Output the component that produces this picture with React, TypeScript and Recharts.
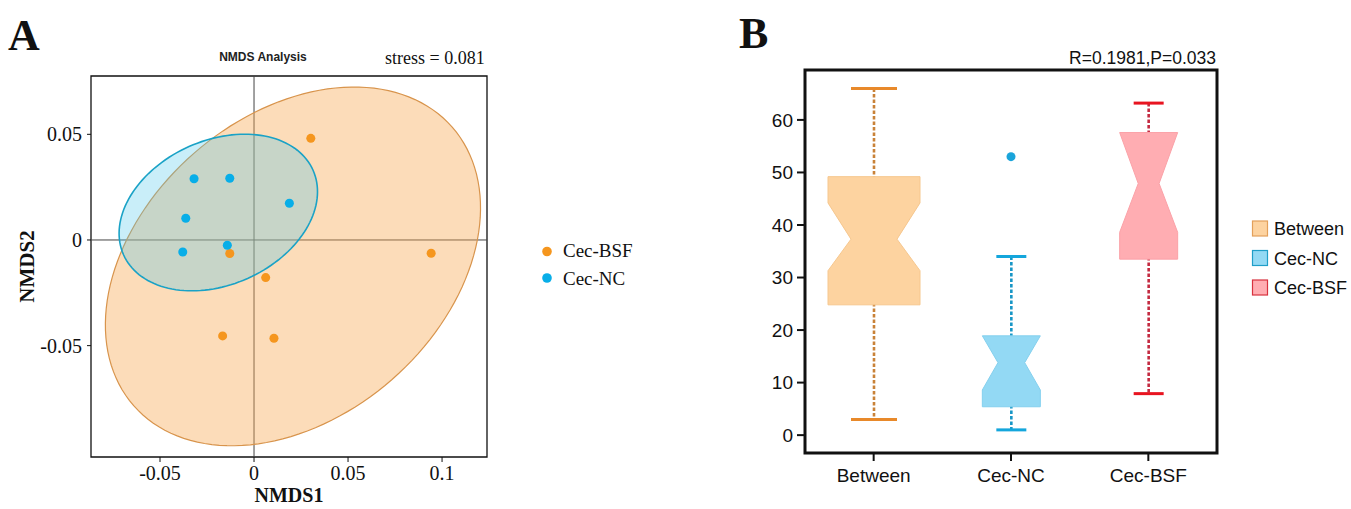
import React from 'react';
import {
  ScatterChart, Scatter, ComposedChart, Bar, Line, XAxis, YAxis,
  ReferenceLine, ReferenceArea, Label,
} from 'recharts';

// ---- panel A : NMDS ----
const BSF_X = [0.0302, -0.0129, 0.0062, -0.0167, 0.0106, 0.0942];
const BSF_Y = [0.0481, -0.0064, -0.0178, -0.0454, -0.0465, -0.0063];
const NC_X = [-0.0319, -0.0129, 0.0188, -0.0363, -0.0379, -0.0142];
const NC_Y = [0.029, 0.0292, 0.0174, 0.0103, -0.0057, -0.0025];

// confidence ellipses: centre + two conjugate semi-axis vectors (data units)
const BSF_ELLIPSE = { c: [0.0207, -0.0125], u: [0.0847, 0.0659], v: [-0.0527, 0.0535] };
const NC_ELLIPSE = { c: [-0.019, 0.013], u: [0.0504, 0.02], v: [-0.0156, 0.0312] };

const X_TICKS = [-0.05, 0, 0.05, 0.1];
const Y_TICKS = [-0.05, 0, 0.05];
const X_DOMAIN = [-0.0867, 0.1239];
const Y_DOMAIN = [-0.1027, 0.0776];

// ---- panel B : ANOSIM boxes ----
const GROUPS = ['Between', 'Cec-NC', 'Cec-BSF'];
const WHISKER_LO = [3.0, 1.0, 7.9];
const Q1 = [24.8, 5.4, 33.5];
const MEDIAN = [37.3, 13.8, 47.9];
const Q3 = [49.2, 18.9, 57.6];
const WHISKER_HI = [66.0, 34.0, 63.2];
const NOTCH_LO = [31.3, 8.6, 38.6];
const NOTCH_HI = [44.2, 18.9, 57.6];
const OUTLIERS = [null, 53.0, null];
const B_TICKS = [0, 10, 20, 30, 40, 50, 60];
const B_DOMAIN = [-3.4, 69.5];

const BOX_STYLE: Record<string, any> = {
  Between: { half: 46, cap: 23, notch: 0.5, fill: '#fdd3a0', edge: '#f6c78e', whisker: '#c98238', capColor: '#e8892a' },
  'Cec-NC': { half: 29, cap: 15, notch: 0.46, fill: '#93d9f4', edge: '#84d0ee', whisker: '#1796c6', capColor: '#14a6dc' },
  'Cec-BSF': { half: 29, cap: 15, notch: 0.36, fill: '#ffadb2', edge: '#fba2a8', whisker: '#c42a40', capColor: '#e81420' },
};

const bsfPoints = BSF_X.map((x, i) => ({ x, y: BSF_Y[i] }));
const ncPoints = NC_X.map((x, i) => ({ x, y: NC_Y[i] }));

function ellipseOutline(e: { c: number[]; u: number[]; v: number[] }) {
  const pts = [];
  for (let i = 0; i < 144; i++) {
    const t = (i / 144) * Math.PI * 2;
    pts.push({
      x: e.c[0] + e.u[0] * Math.cos(t) + e.v[0] * Math.sin(t),
      y: e.c[1] + e.u[1] * Math.cos(t) + e.v[1] * Math.sin(t),
    });
  }
  return pts;
}

const bsfEllipse = ellipseOutline(BSF_ELLIPSE);
const ncEllipse = ellipseOutline(NC_ELLIPSE);

const boxRows = GROUPS.map((g, i) => ({
  group: g,
  whisker: [WHISKER_LO[i], WHISKER_HI[i]],
  q1: Q1[i],
  median: MEDIAN[i],
  q3: Q3[i],
  notchLo: NOTCH_LO[i],
  notchHi: NOTCH_HI[i],
  outlier: OUTLIERS[i],
}));

const polygonFill = (fill: string, opacity: number, stroke: string, sw: number) => (p: any) => {
  const pts = p.points || [];
  if (!pts.length) return <g />;
  const d = pts.map((q: any, i: number) => `${i ? 'L' : 'M'}${q.x},${q.y}`).join('') + 'Z';
  return <path d={d} fill={fill} fillOpacity={opacity} stroke={stroke} strokeWidth={sw} />;
};

const BoxShape = (props: any) => {
  const { x, y, width, height, payload } = props;
  const s = BOX_STYLE[payload.group];
  const lo = payload.whisker[0];
  const hi = payload.whisker[1];
  const top = Math.min(y, y + height);
  const h = Math.abs(height);
  const py = (v: number) => top + ((hi - v) / (hi - lo)) * h;
  const cx = x + width / 2;
  const w = s.half;
  const n = s.half * s.notch;
  const box = [
    [cx - w, py(payload.q3)], [cx + w, py(payload.q3)], [cx + w, py(payload.notchHi)],
    [cx + n, py(payload.median)], [cx + w, py(payload.notchLo)], [cx + w, py(payload.q1)],
    [cx - w, py(payload.q1)], [cx - w, py(payload.notchLo)], [cx - n, py(payload.median)],
    [cx - w, py(payload.notchHi)],
  ];
  const d = box.map((q, i) => `${i ? 'L' : 'M'}${q[0]},${q[1]}`).join('') + 'Z';
  return (
    <g>
      <line x1={cx} x2={cx} y1={py(hi)} y2={py(lo)} stroke={s.whisker} strokeWidth={2.6} strokeDasharray="3.5 2" />
      <line x1={cx - s.cap} x2={cx + s.cap} y1={py(hi)} y2={py(hi)} stroke={s.capColor} strokeWidth={3} />
      <line x1={cx - s.cap} x2={cx + s.cap} y1={py(lo)} y2={py(lo)} stroke={s.capColor} strokeWidth={3} />
      <path d={d} fill={s.fill} stroke={s.edge} strokeWidth={1} />
    </g>
  );
};

const SERIF = '"Liberation Serif", "Times New Roman", serif';
const SANS = '"Liberation Sans", Arial, sans-serif';

export default function App() {
  return (
    <div style={{ position: 'absolute', left: 0, top: 0, width: 1351, height: 509, background: '#fff', overflow: 'hidden' }}>
      <div style={{ position: 'absolute', left: 0, top: 0 }}>
        <ScatterChart width={560} height={509} margin={{ top: 76, right: 73, bottom: 2, left: 11 }}>
          <XAxis
            type="number" dataKey="x" domain={X_DOMAIN} ticks={X_TICKS} allowDataOverflow height={50}
            axisLine={false} tickSize={5} tickMargin={4} tickLine={{ stroke: '#111' }}
            tickFormatter={(v: number) => String(v)}
            tick={{ fill: '#111', fontSize: 20, fontFamily: SERIF }}
          >
            <Label value="NMDS1" position="insideBottom" offset={5} style={{ fontFamily: SERIF, fontSize: 20, fontWeight: 'bold', fill: '#111' }} />
          </XAxis>
          <YAxis
            type="number" dataKey="y" domain={Y_DOMAIN} ticks={Y_TICKS} allowDataOverflow width={80}
            axisLine={false} tickSize={4} tickMargin={5} tickLine={{ stroke: '#111' }}
            tickFormatter={(v: number) => String(v)}
            tick={{ fill: '#111', fontSize: 20, fontFamily: SERIF }}
          >
            <Label value="NMDS2" angle={-90} position="insideLeft" offset={16} textAnchor="middle" style={{ fontFamily: SERIF, fontSize: 21, fontWeight: 'bold', fill: '#111' }} />
          </YAxis>
          <Scatter data={bsfEllipse} line={polygonFill('#f7a850', 0.4, '#d8944c', 1.2)} shape={() => <g />} isAnimationActive={false} />
          <Scatter data={ncEllipse} line={polygonFill('#4cc8ec', 0.3, '#1aa2c6', 1.6)} shape={() => <g />} isAnimationActive={false} />
          <ReferenceLine x={0} stroke="#444" strokeWidth={1} />
          <ReferenceLine y={0} stroke="#444" strokeWidth={1} />
          <ReferenceArea x1={X_DOMAIN[0]} x2={X_DOMAIN[1]} y1={Y_DOMAIN[0]} y2={Y_DOMAIN[1]} fill="none" stroke="#111" strokeWidth={1.3} />
          <Scatter data={bsfPoints} fill="#f5961e" shape="circle" isAnimationActive={false} />
          <Scatter data={ncPoints} fill="#08aee8" shape="circle" isAnimationActive={false} />
        </ScatterChart>
      </div>

      <div style={{ position: 'absolute', left: 720, top: 0 }}>
        <ComposedChart width={631} height={509} data={boxRows} margin={{ top: 70, right: 134, bottom: 16, left: 25 }}>
          <XAxis
            dataKey="group" type="category" height={40} axisLine={false} tickSize={8} tickMargin={8}
            tickLine={{ stroke: '#111', strokeWidth: 2 }}
            tick={{ fill: '#111', fontSize: 19, fontFamily: SANS }}
          />
          <YAxis
            type="number" domain={B_DOMAIN} ticks={B_TICKS} allowDataOverflow width={60}
            axisLine={false} tickSize={8} tickMargin={4} tickLine={{ stroke: '#111', strokeWidth: 2 }}
            tick={{ fill: '#111', fontSize: 19, fontFamily: SANS }}
          />
          <Bar dataKey="whisker" barSize={100} shape={BoxShape} isAnimationActive={false} />
          <Line dataKey="outlier" stroke="none" dot={{ r: 4.5, fill: '#1aa4da', stroke: 'none' }} activeDot={false} isAnimationActive={false} />
          <ReferenceArea y1={B_DOMAIN[0]} y2={B_DOMAIN[1]} fill="none" stroke="#111" strokeWidth={3} />
        </ComposedChart>
      </div>

      <svg width={1351} height={509} style={{ position: 'absolute', left: 0, top: 0, pointerEvents: 'none' }}>
        <text x={8} y={50} fontFamily={SERIF} fontWeight="bold" fontSize={44} fill="#111">A</text>
        <text x={739} y={48} fontFamily={SERIF} fontWeight="bold" fontSize={44} fill="#111">B</text>
        <text x={263} y={61} textAnchor="middle" fontFamily={SANS} fontWeight="bold" fontSize={12} fill="#222">NMDS Analysis</text>
        <text x={385} y={63.5} fontFamily={SERIF} fontSize={18} fill="#111">stress = 0.081</text>
        <text x={1216} y={64} textAnchor="end" fontFamily={SANS} fontSize={17.5} fill="#111">R=0.1981,P=0.033</text>

        <circle cx={547} cy={251.5} r={4.8} fill="#f5961e" />
        <text x={563} y={257} fontFamily={SERIF} fontSize={19} fill="#111">Cec-BSF</text>
        <circle cx={547} cy={278} r={4.8} fill="#08aee8" />
        <text x={563} y={284.5} fontFamily={SERIF} fontSize={19} fill="#111">Cec-NC</text>

        <rect x={1252.5} y={221} width={15} height={15} fill="#fdd3a0" stroke="#e3a05a" strokeWidth={1.2} />
        <text x={1274} y={235} fontFamily={SANS} fontSize={18} fill="#111">Between</text>
        <rect x={1252.5} y={250.5} width={15} height={15} fill="#93d9f4" stroke="#1f9ec8" strokeWidth={1.2} />
        <text x={1274} y={264.5} fontFamily={SANS} fontSize={18} fill="#111">Cec-NC</text>
        <rect x={1252.5} y={280} width={15} height={15} fill="#ffadb2" stroke="#d8323f" strokeWidth={1.2} />
        <text x={1274} y={294} fontFamily={SANS} fontSize={18} fill="#111">Cec-BSF</text>
      </svg>
    </div>
  );
}
